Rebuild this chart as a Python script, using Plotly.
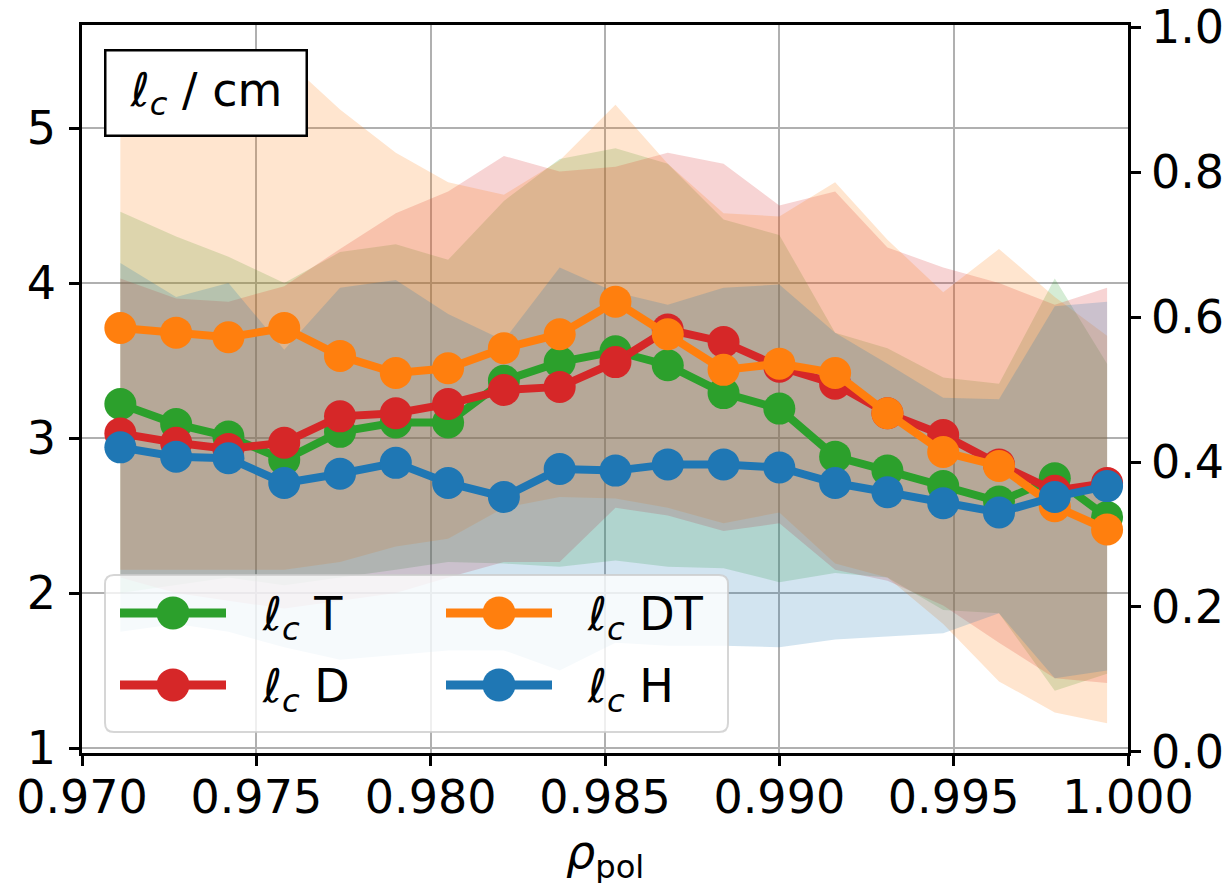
import plotly.graph_objects as go

# normalised poloidal flux coordinate of each radial bin
rho = [0.9711, 0.9727, 0.9742, 0.9758, 0.9774, 0.9790, 0.9805, 0.9821, 0.9837, 0.9853,
       0.9868, 0.9884, 0.9900, 0.9916, 0.9931, 0.9947, 0.9963, 0.9979, 0.9994]

# correlation length l_c (cm), median per isotope
lc_T = [3.22, 3.09, 3.01, 2.86, 3.04, 3.10, 3.10, 3.37, 3.49, 3.56,
        3.47, 3.29, 3.19, 2.88, 2.79, 2.69, 2.59, 2.74, 2.49]
lc_D = [3.03, 2.97, 2.93, 2.97, 3.14, 3.16, 3.22, 3.31, 3.33, 3.49,
        3.70, 3.62, 3.46, 3.35, 3.16, 3.02, 2.83, 2.66, 2.71]
lc_DT = [3.71, 3.68, 3.65, 3.71, 3.53, 3.42, 3.45, 3.58, 3.67, 3.88,
         3.67, 3.44, 3.48, 3.42, 3.16, 2.91, 2.82, 2.56, 2.41]
lc_H = [2.94, 2.88, 2.87, 2.71, 2.77, 2.84, 2.71, 2.62, 2.80, 2.79,
        2.83, 2.83, 2.81, 2.71, 2.65, 2.58, 2.52, 2.62, 2.69]

# spread of l_c (upper / lower bound of the shaded band)
T_hi = [4.46, 4.30, 4.17, 4.00, 4.20, 4.25, 4.15, 4.53, 4.80, 4.87,
        4.77, 4.41, 4.31, 3.68, 3.58, 3.39, 3.35, 4.03, 3.48]
T_lo = [2.00, 2.05, 2.10, 2.05, 2.10, 2.15, 2.20, 2.19, 2.17, 2.21,
        2.17, 2.16, 2.07, 2.13, 2.10, 1.89, 1.87, 1.37, 1.48]
D_hi = [4.03, 3.90, 3.88, 3.98, 4.22, 4.45, 4.59, 4.82, 4.72, 4.75,
        4.84, 4.77, 4.50, 4.59, 4.23, 4.10, 4.00, 3.86, 3.97]
D_lo = [2.10, 2.00, 1.95, 1.90, 1.95, 2.00, 2.10, 2.20, 2.20, 2.55,
        2.50, 2.40, 2.45, 2.15, 2.08, 1.92, 1.68, 1.45, 1.42]
DT_hi = [5.15, 5.30, 5.45, 5.45, 5.12, 4.84, 4.65, 4.57, 4.79, 5.15,
         4.77, 4.45, 4.43, 4.65, 4.28, 3.94, 4.22, 3.91, 3.66]
DT_lo = [2.15, 2.15, 2.15, 2.15, 2.20, 2.30, 2.35, 2.55, 2.62, 2.61,
         2.55, 2.45, 2.52, 2.19, 2.10, 1.80, 1.43, 1.23, 1.16]
H_hi = [4.13, 3.91, 4.00, 3.57, 3.97, 4.02, 3.80, 3.63, 4.10, 3.94,
        3.86, 3.97, 3.99, 3.68, 3.48, 3.26, 3.25, 3.85, 3.88]
H_lo = [1.75, 1.80, 1.75, 1.65, 1.57, 1.60, 1.63, 1.63, 1.50, 1.68,
        1.66, 1.66, 1.65, 1.70, 1.72, 1.74, 1.87, 1.45, 1.50]

x_ticks = [0.970, 0.975, 0.980, 0.985, 0.990, 0.995, 1.000]
y_ticks = [1, 2, 3, 4, 5]
y2_ticks = [0.0, 0.2, 0.4, 0.6, 0.8, 1.0]

series = [
    ("T", lc_T, T_hi, T_lo, "#2ca02c", (44, 160, 44)),
    ("D", lc_D, D_hi, D_lo, "#d62728", (214, 39, 40)),
    ("DT", lc_DT, DT_hi, DT_lo, "#ff7f0e", (255, 127, 14)),
    ("H", lc_H, H_hi, H_lo, "#1f77b4", (31, 119, 180)),
]

FONT = "DejaVu Sans"
FS = 46
LC = "<i>ℓ</i><sub><i>c</i></sub>"

fig = go.Figure()

# shaded spread bands first, so that every median curve sits on top
for name, med, hi, lo, col, rgb in series:
    fig.add_trace(go.Scatter(
        x=rho + rho[::-1], y=hi + lo[::-1],
        fill="toself", mode="lines", line=dict(width=0),
        fillcolor="rgba(%d,%d,%d,0.2)" % rgb,
        showlegend=False, hoverinfo="skip",
    ))

for name, med, hi, lo, col, rgb in series:
    fig.add_trace(go.Scatter(
        x=rho, y=med, mode="lines+markers", name=LC + " " + name,
        line=dict(color=col, width=8),
        marker=dict(color=col, size=32, line=dict(width=0)),
        showlegend=False,
    ))

# empty trace that carries the secondary (right) axis
fig.add_trace(go.Scatter(x=[None], y=[None], yaxis="y2", showlegend=False,
                         hoverinfo="skip", mode="markers"))

# plot-area geometry in pixels
W, H = 1230, 883
PL, PR, PT, PB = 82, 1128, 25, 753


def fx(px):
    return (px - PL) / (PR - PL)


def fy(py):
    return (PB - py) / (PB - PT)


def rounded_box(x0, y0, x1, y1, r):
    pts = []
    pts.append("M%.5f,%.5f" % (fx(x0 + r), fy(y0)))
    pts.append("L%.5f,%.5f" % (fx(x1 - r), fy(y0)))
    pts.append("Q%.5f,%.5f %.5f,%.5f" % (fx(x1), fy(y0), fx(x1), fy(y0 + r)))
    pts.append("L%.5f,%.5f" % (fx(x1), fy(y1 - r)))
    pts.append("Q%.5f,%.5f %.5f,%.5f" % (fx(x1), fy(y1), fx(x1 - r), fy(y1)))
    pts.append("L%.5f,%.5f" % (fx(x0 + r), fy(y1)))
    pts.append("Q%.5f,%.5f %.5f,%.5f" % (fx(x0), fy(y1), fx(x0), fy(y1 - r)))
    pts.append("L%.5f,%.5f" % (fx(x0), fy(y0 + r)))
    pts.append("Q%.5f,%.5f %.5f,%.5f Z" % (fx(x0), fy(y0), fx(x0 + r), fy(y0)))
    return " ".join(pts)


shapes = []
annotations = []

# legend frame
shapes.append(dict(type="path", xref="paper", yref="paper", layer="above",
                   path=rounded_box(105, 575, 728, 732, 9),
                   fillcolor="rgba(255,255,255,0.8)",
                   line=dict(color="rgba(204,204,204,0.8)", width=2)))

# legend entries, filled column by column
slots = [(120, 226, 173, 260, 613), (120, 226, 173, 260, 685),
         (446, 552, 499, 585, 613), (446, 552, 499, 585, 685)]
for (name, med, hi, lo, col, rgb), (lx0, lx1, mx, tx, ry) in zip(series, slots):
    shapes.append(dict(type="line", xref="paper", yref="paper", layer="above",
                       x0=fx(lx0), x1=fx(lx1), y0=fy(ry), y1=fy(ry),
                       line=dict(color=col, width=9)))
    shapes.append(dict(type="circle", xref="paper", yref="paper", layer="above",
                       xsizemode="pixel", ysizemode="pixel",
                       xanchor=fx(mx), yanchor=fy(ry),
                       x0=-16.5, x1=16.5, y0=-16.5, y1=16.5,
                       fillcolor=col, line=dict(width=0)))
    annotations.append(dict(xref="paper", yref="paper", x=fx(tx), y=fy(ry + 4),
                            xanchor="left", yanchor="middle", showarrow=False,
                            text=LC + " " + name,
                            font=dict(family=FONT, size=FS, color="black")))

# quantity label box
annotations.append(dict(xref="paper", yref="paper", x=fx(104), y=fy(49),
                        xanchor="left", yanchor="top", showarrow=False,
                        text=LC + " / cm", width=199, height=83,
                        bgcolor="white", bordercolor="black", borderwidth=2.5,
                        borderpad=0,
                        font=dict(family=FONT, size=FS, color="black")))

# x-axis label, set below the tick labels
annotations.append(dict(xref="paper", yref="paper", x=0.5, y=fy(823),
                        xanchor="center", yanchor="top", showarrow=False,
                        text="<i>ρ</i><sub>pol</sub>",
                        font=dict(family=FONT, size=FS, color="black")))

axis_common = dict(
    showline=True, linecolor="black", linewidth=2.5,
    ticks="outside", ticklen=10, tickwidth=2.5, tickcolor="black",
    tickfont=dict(family=FONT, size=FS, color="black"),
    zeroline=False, automargin=False,
)

fig.update_layout(
    width=W, height=H,
    margin=dict(l=PL, r=W - PR, t=PT, b=H - PB, pad=0),
    paper_bgcolor="white", plot_bgcolor="white",
    font=dict(family=FONT, size=FS, color="black"),
    showlegend=False,
    shapes=shapes, annotations=annotations,
    xaxis=dict(range=[0.970, 1.000], tickvals=x_ticks, tickformat=".3f",
               showgrid=True, gridcolor="#b0b0b0", gridwidth=2, mirror=True,
               ticklabelstandoff=-8,
               **axis_common),
    yaxis=dict(range=[0.968, 5.665], tickvals=y_ticks,
               showgrid=True, gridcolor="#b0b0b0", gridwidth=2, mirror=True,
               ticklabelstandoff=4,
               **axis_common),
    yaxis2=dict(range=[-0.0014, 1.0028], tickvals=y2_ticks, tickformat=".1f",
                overlaying="y", side="right", showgrid=False,
                ticklabelstandoff=1,
                **axis_common),
)

fig.write_html("out.html")
